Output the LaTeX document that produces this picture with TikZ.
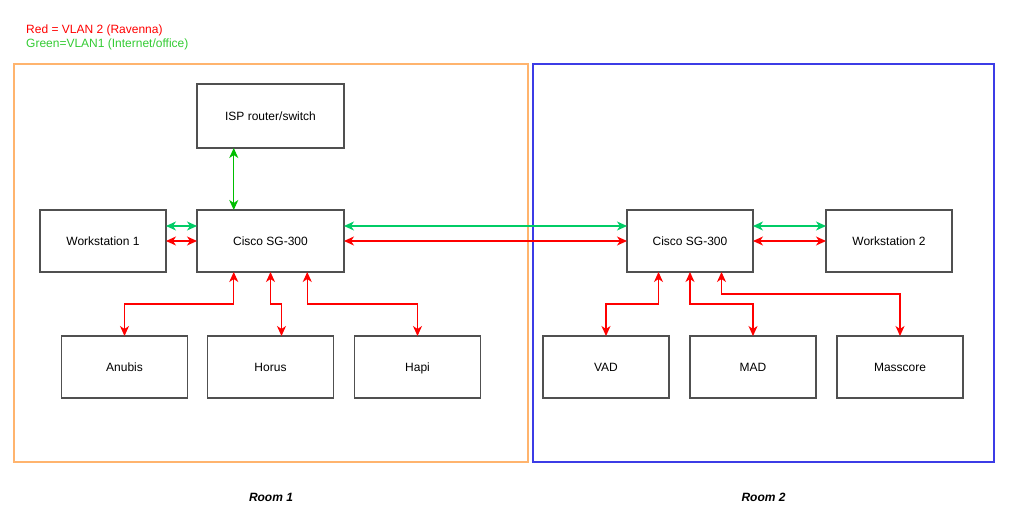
\documentclass[tikz,border=0pt]{standalone}
\usepackage{fontspec}
\setmainfont{Liberation Sans}
\usepackage{xcolor}
\usetikzlibrary{arrows.meta,positioning}

\definecolor{vlanred}{RGB}{255,0,0}
\definecolor{vlangreen}{RGB}{0,204,102}
\definecolor{ispgreen}{RGB}{0,190,0}
\definecolor{boxgray}{RGB}{80,80,80}
\definecolor{roomorange}{RGB}{255,180,110}
\definecolor{roomblue}{RGB}{60,60,230}

\begin{document}
\begin{tikzpicture}[
    x=1pt, y=1pt,
    font=\fontsize{12}{14}\selectfont,
    switch/.style={rectangle, draw=boxgray, line width=1.4pt, minimum width=147pt, minimum height=62pt, inner sep=0pt, outer sep=0pt, align=center, text height=10.5pt, text depth=1.5pt},
    host/.style={rectangle, draw=boxgray, line width=1.4pt, minimum width=126pt, minimum height=62pt, inner sep=0pt, outer sep=0pt, align=center, text height=10.5pt, text depth=1.5pt},
    room/.style={rectangle, line width=1.3pt, minimum height=398pt, inner sep=0pt, outer sep=0pt},
    vlanone/.style={{Stealth[length=10pt,width=9pt,inset=3pt]}-{Stealth[length=10pt,width=9pt,inset=3pt]}, line width=1.1pt, vlangreen},
    vlantwo/.style={{Stealth[length=10pt,width=9pt,inset=3pt]}-{Stealth[length=10pt,width=9pt,inset=3pt]}, line width=1.1pt, vlanred},
    roomlabel/.style={font=\fontsize{12}{14}\selectfont\bfseries\itshape}
]
\useasboundingbox (0,0) rectangle (1024,-532);

% Legend
\node[anchor=west, text=vlanred, inner sep=0pt] (leg-red) at (26,-30) {Red = VLAN 2 (Ravenna)};
\node[anchor=west, text=ispgreen!80!white, inner sep=0pt] (leg-green) at (26,-44) {Green=VLAN1 (Internet/office)};

% Rooms
\node[room, draw=roomorange, minimum width=514pt] (room1) at (271,-263) {};
\node[room, draw=roomblue, minimum width=461pt] (room2) at (763.5,-263) {};
\node[roomlabel, below=28pt of room1] (room1-label) {Room 1};
\node[roomlabel, below=28pt of room2] (room2-label) {Room 2};

% Room 1
\node[switch] (cisco1) at (270.5,-241) {Cisco SG-300};
\node[switch, minimum height=64pt, above=62pt of cisco1] (isp) {ISP router/switch};
\node[host, left=31pt of cisco1] (ws1) {Workstation 1};
\node[host, below=64pt of cisco1] (horus) {Horus};
\node[host, left=20pt of horus] (anubis) {Anubis};
\node[host, right=21pt of horus] (hapi) {Hapi};

% Room 2
\node[host, right=283pt of cisco1] (cisco2) {Cisco SG-300};
\node[host, right=73pt of cisco2] (ws2) {Workstation 2};
\node[host, below=64pt of cisco2, xshift=63pt] (mad) {MAD};
\node[host, left=21pt of mad] (vad) {VAD};
\node[host, right=21pt of mad] (masscore) {Masscore};

% VLAN1 links (green)
\draw[vlanone, ispgreen] ([xshift=-36.75pt]isp.south) -- ([xshift=-36.75pt]cisco1.north);
\draw[vlanone] ([yshift=15pt]ws1.east) -- ([yshift=15pt]cisco1.west);
\draw[vlanone] ([yshift=15pt]cisco1.east) -- ([yshift=15pt]cisco2.west);
\draw[vlanone] ([yshift=15pt]cisco2.east) -- ([yshift=15pt]ws2.west);

% VLAN2 links (red)
\draw[vlantwo] (ws1.east) -- (cisco1.west);
\draw[vlantwo] (cisco1.east) -- (cisco2.west);
\draw[vlantwo] (cisco2.east) -- (ws2.west);

\draw[vlantwo] ([xshift=-36.75pt]cisco1.south) -- ++(0,-32) -| (anubis.north);
\draw[vlantwo] (cisco1.south) -- ++(0,-32) -| ([xshift=11pt]horus.north);
\draw[vlantwo] ([xshift=36.75pt]cisco1.south) -- ++(0,-32) -| (hapi.north);

\draw[vlantwo] ([xshift=-31.5pt]cisco2.south) -- ++(0,-32) -| (vad.north);
\draw[vlantwo] (cisco2.south) -- ++(0,-32) -| (mad.north);
\draw[vlantwo] ([xshift=31.5pt]cisco2.south) -- ++(0,-22) -| (masscore.north);

\end{tikzpicture}
\end{document}
